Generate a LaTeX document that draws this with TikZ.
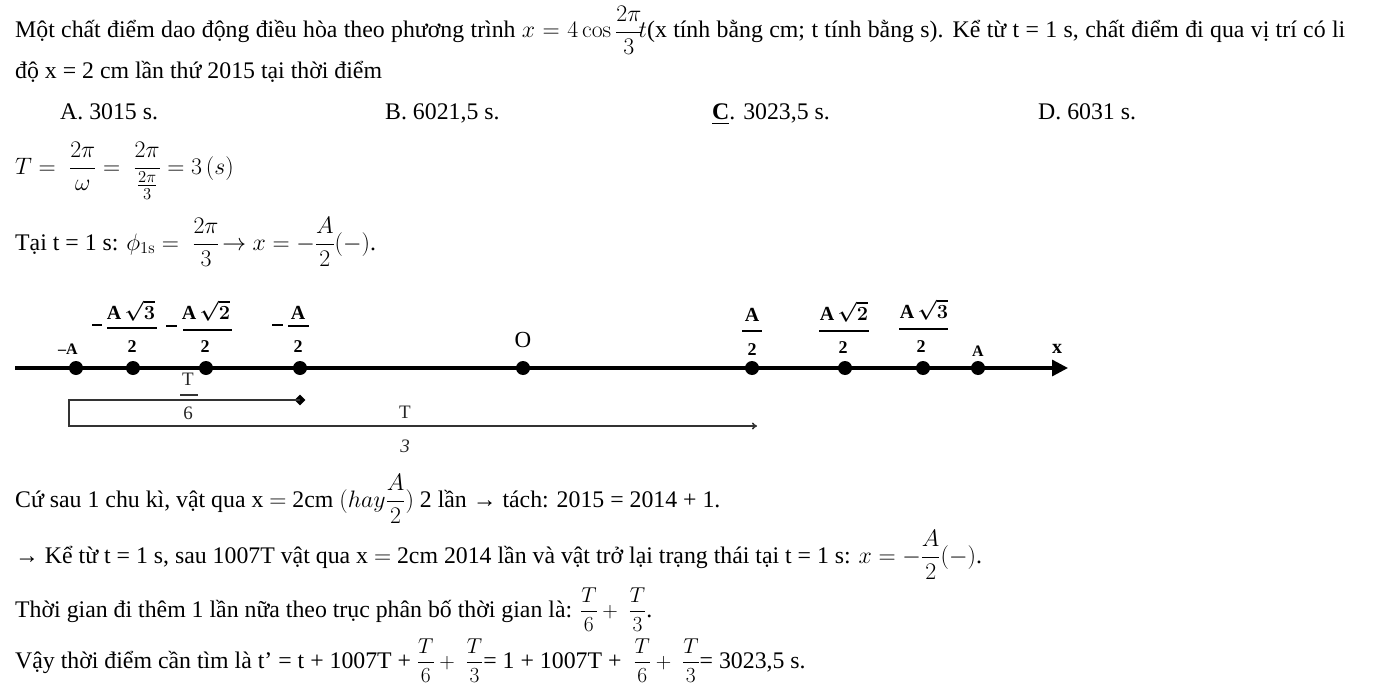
\RequirePackage{fix-cm}
\documentclass[tikz,border=0pt]{standalone}
\usepackage[no-math]{fontspec}
\setmainfont{Liberation Serif}
\usepackage{amsmath,bm}
\usetikzlibrary{arrows.meta,shapes.geometric}
\newcommand\txt{\fontsize{23.8}{28}\selectfont}
\newcommand\smm{\fontsize{21.5}{26}\selectfont}
\newcommand\lblf{\fontsize{20}{20}\selectfont\bfseries}
\newcommand\lbld{\fontsize{18}{18}\selectfont\bfseries}
\newcommand\lbls{\fontsize{16}{16}\selectfont\bfseries}
\tikzset{
  line/.style={anchor=base west, inner sep=0pt, font=\txt},
  dot/.style={circle, fill=black, inner sep=0pt, minimum size=14pt},
  axis/.style={line width=3.3pt, -{Triangle[length=16pt,width=16pt]}},
  num/.style={anchor=base, inner sep=0pt, font=\lblf},
  den/.style={anchor=base, inner sep=0pt, font=\lbld},
  bar/.style={line width=1.6pt},
  brk/.style={line width=1.6pt, draw=black!80},
  tlbl/.style={anchor=base, inner sep=0pt, font=\fontsize{19}{19}\selectfont, text=black!85}
}
\begin{document}
\begin{tikzpicture}[x=1pt,y=-1pt]
\useasboundingbox (0,0) rectangle (1375,698);
% text lines
\node[line] (l1) at (15,38) {\makebox[1330pt][s]{Một chất điểm dao động điều hòa theo phương trình $x=4\cos\dfrac{2\pi}{3}\!t$(x tính bằng cm; t tính bằng s). Kể từ t = 1 s, chất điểm đi qua vị trí có li}};
\node[line] (l2) at (15,79) {độ x = 2 cm lần thứ 2015 tại thời điểm};
\node[line] (oa) at (60,120) {A. 3015 s.};
\node[line] (ob) at (385,120) {B. 6021,5 s.};
\node[line] (oc) at (712,120) {\underline{\textbf{C}}. 3023,5 s.};
\node[line] (od) at (1038,120) {D. 6031 s.};
\node[line] (l4) at (15,174) {$T=\;\dfrac{2\pi}{\omega}=\;\dfrac{2\pi}{\frac{2\pi}{3}}=3\,(s)$};
\node[line] (l5) at (15,250) {Tại t = 1 s: $\phi_{1\mathrm{s}}=\;\dfrac{2\pi}{3}\!\rightarrow x=-\dfrac{A}{2}(-)$.};
\node[line] (l6) at (15,507) {Cứ sau 1 chu kì, vật qua x $=$ 2cm $(hay\dfrac{A}{2})$ 2 lần → tách: 2015 = 2014 + 1.};
\node[line] (l7) at (15,563) {→ Kể từ t = 1 s, sau 1007T vật qua x $=$ 2cm 2014 lần và vật trở lại trạng thái tại t = 1 s: $x=-\dfrac{A}{2}(-)$.};
\node[line] (l8) at (15,617) {Thời gian đi thêm 1 lần nữa theo trục phân bố thời gian là: {\smm$\dfrac{T}{6}+\;\dfrac{T}{3}$}.};
\node[line] (l9) at (15,668) {Vậy thời điểm cần tìm là t’ = t + 1007T + {\smm$\dfrac{T}{6}+\;\dfrac{T}{3}$}= 1 + 1007T + {\smm$\;\dfrac{T}{6}+\;\dfrac{T}{3}$}= 3023,5 s.};
% axis
\coordinate (ax0) at (15,368);
\coordinate (ax1) at (1068,368);
\draw[axis] (ax0) -- (ax1);
\foreach \n/\x in {pmA/76, pm3/133, pm2/206, pm1/300, pO/523, pp1/752, pp2/845, pp3/923, pA/978}
  \node[dot] (\n) at (\x,368) {};
% labels
\node[anchor=base, inner sep=0pt, font=\lbls] (tmA) at (68,354) {–A};
% -A sqrt3 /2
\draw[bar] (92,325) -- (102,325);
\node[num] (n3a) at (131,319) {A\,$\bm{\sqrt{3}}$};
\draw[bar] (107,328) -- (157,328);
\node[den] (n3b) at (132,352) {2};
% -A sqrt2 /2
\draw[bar] (166,326) -- (177,326);
\node[num] (n2a) at (206,319) {A\,$\bm{\sqrt{2}}$};
\draw[bar] (183,330) -- (232,330);
\node[den] (n2b) at (205,352) {2};
% -A/2
\draw[bar] (272,325) -- (283,325);
\node[num] (n1a) at (298,319) {A};
\draw[bar] (288,326) -- (309,326);
\node[den] (n1b) at (298,352) {2};
% O
\node[anchor=base, inner sep=0pt, font=\fontsize{23}{23}\selectfont] (tO) at (523,347) {O};
% A/2
\node[num] (p1a) at (752,321) {A};
\draw[bar] (742,331) -- (762,331);
\node[den] (p1b) at (752,355) {2};
% A sqrt2/2
\node[num] (p2a) at (844,320) {A\,$\bm{\sqrt{2}}$};
\draw[bar] (819,331) -- (869,331);
\node[den] (p2b) at (843,353) {2};
% A sqrt3/2
\node[num] (p3a) at (924,318) {A\,$\bm{\sqrt{3}}$};
\draw[bar] (899,329) -- (948,329);
\node[den] (p3b) at (921,352) {2};
% A, x
\node[anchor=base, inner sep=0pt, font=\lbls] (tA) at (978,356) {A};
\node[anchor=base, inner sep=0pt, font=\lblf] (tx) at (1057,353) {x};
% bracket
\node[diamond, fill=black, inner sep=0pt, minimum size=11pt] (dm) at (300,400) {};
\coordinate (bl1) at (69,400);
\coordinate (bl2) at (69,426);
\coordinate (be) at (757,426);
\draw[brk, -{To[length=5pt,width=7pt]}] (dm.center) -- (bl1) -- (bl2) -- (be);
% T/6
\node[tlbl] (t6a) at (188,385) {T};
\draw[brk] (180,395) -- (198,395);
\node[tlbl] (t6b) at (188,419) {6};
% T/3
\node[tlbl] (t3a) at (405,418) {T};
\node[tlbl, font=\fontsize{19}{19}\selectfont\itshape] (t3b) at (405,452) {3};
\end{tikzpicture}
\end{document}
